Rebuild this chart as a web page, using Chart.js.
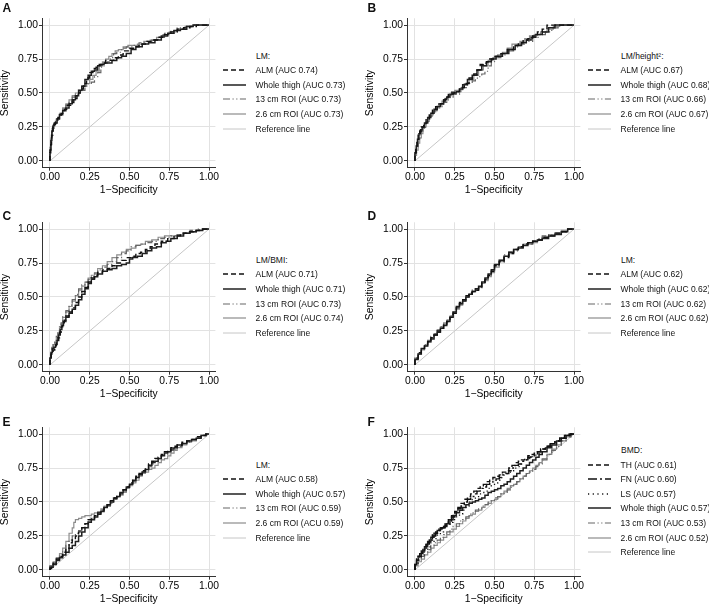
<!DOCTYPE html>
<html>
<head>
<meta charset="utf-8">
<script src="https://cdn.jsdelivr.net/npm/chart.js@4"></script>
<style>
  body { margin: 0; width: 709px; height: 604px; background: #fff; position: relative; overflow: hidden; font-family: 'Liberation Sans', Arial, sans-serif; }
  canvas { position: absolute; }
  .tag { position: absolute; font-size: 12px; font-weight: bold; line-height: 12px; color: #111; }
  .leg { position: absolute; font-size: 8.5px; color: #111; white-space: nowrap; }
  .leg .row { position: absolute; left: 0; height: 14px; display: flex; align-items: center; }
  .leg svg { width: 23px; height: 6px; margin-right: 10px; }
</style>
</head>
<body>
<script>
// axis ticks shared by all panels
const xTicks = [0, 0.25, 0.5, 0.75, 1];
const yTicks = [0, 0.25, 0.5, 0.75, 1];
const refLine = [[0, 0], [1, 1]];

// panel A — LM
const aALM = [[0,0],[0.005,0.06],[0.01,0.12],[0.018,0.19],[0.025,0.25],[0.035,0.27],[0.05,0.29],[0.07,0.32],[0.09,0.35],[0.11,0.38],[0.13,0.41],[0.15,0.43],[0.17,0.46],[0.19,0.5],[0.21,0.53],[0.23,0.57],[0.25,0.61],[0.27,0.65],[0.29,0.68],[0.31,0.69],[0.33,0.71],[0.35,0.72],[0.37,0.74],[0.4,0.74],[0.43,0.76],[0.46,0.78],[0.5,0.81],[0.53,0.83],[0.56,0.84],[0.6,0.86],[0.64,0.88],[0.68,0.89],[0.72,0.91],[0.76,0.93],[0.8,0.95],[0.84,0.97],[0.88,0.98],[0.92,0.99],[0.95,1],[1,1]];
const aWT = [[0,0],[0.006,0.08],[0.012,0.15],[0.02,0.22],[0.03,0.26],[0.045,0.28],[0.06,0.31],[0.08,0.34],[0.1,0.37],[0.12,0.39],[0.14,0.42],[0.16,0.45],[0.18,0.48],[0.2,0.52],[0.22,0.55],[0.24,0.6],[0.26,0.63],[0.28,0.66],[0.3,0.67],[0.32,0.7],[0.34,0.71],[0.36,0.72],[0.39,0.72],[0.42,0.74],[0.45,0.76],[0.48,0.77],[0.51,0.79],[0.54,0.82],[0.58,0.84],[0.62,0.86],[0.66,0.87],[0.7,0.89],[0.74,0.92],[0.78,0.94],[0.82,0.96],[0.86,0.97],[0.9,0.99],[0.94,1],[1,1]];
const a13 = [[0,0],[0.008,0.1],[0.015,0.18],[0.025,0.24],[0.04,0.27],[0.06,0.3],[0.08,0.34],[0.1,0.38],[0.12,0.41],[0.14,0.44],[0.16,0.47],[0.18,0.49],[0.2,0.5],[0.22,0.52],[0.24,0.55],[0.26,0.57],[0.28,0.58],[0.3,0.62],[0.32,0.65],[0.34,0.69],[0.36,0.72],[0.38,0.73],[0.4,0.76],[0.42,0.79],[0.45,0.8],[0.48,0.83],[0.5,0.84],[0.53,0.84],[0.56,0.85],[0.6,0.87],[0.64,0.88],[0.68,0.89],[0.72,0.91],[0.76,0.94],[0.8,0.96],[0.85,0.98],[0.9,0.99],[0.95,1],[1,1]];
const a26 = [[0,0],[0.007,0.09],[0.014,0.17],[0.024,0.24],[0.04,0.28],[0.06,0.31],[0.08,0.35],[0.1,0.39],[0.12,0.42],[0.14,0.45],[0.16,0.48],[0.18,0.5],[0.2,0.52],[0.23,0.55],[0.25,0.57],[0.27,0.6],[0.29,0.63],[0.31,0.66],[0.33,0.7],[0.35,0.73],[0.37,0.75],[0.39,0.77],[0.41,0.79],[0.43,0.81],[0.46,0.82],[0.49,0.84],[0.52,0.85],[0.55,0.85],[0.59,0.86],[0.63,0.88],[0.67,0.89],[0.71,0.91],[0.75,0.93],[0.8,0.95],[0.85,0.97],[0.9,0.99],[0.95,1],[1,1]];

// panel B — LM/height²
const bALM = [[0,0],[0.005,0.05],[0.012,0.1],[0.02,0.15],[0.03,0.19],[0.04,0.22],[0.055,0.25],[0.07,0.27],[0.09,0.31],[0.11,0.35],[0.13,0.38],[0.15,0.4],[0.17,0.42],[0.19,0.44],[0.21,0.47],[0.23,0.49],[0.25,0.5],[0.28,0.51],[0.31,0.54],[0.34,0.57],[0.37,0.61],[0.39,0.64],[0.41,0.67],[0.43,0.71],[0.45,0.72],[0.47,0.73],[0.5,0.75],[0.54,0.77],[0.58,0.79],[0.62,0.82],[0.65,0.85],[0.68,0.87],[0.71,0.89],[0.74,0.9],[0.77,0.92],[0.8,0.95],[0.83,0.97],[0.86,1],[0.9,1],[1,1]];
const bWT = [[0,0],[0.008,0.06],[0.016,0.11],[0.025,0.16],[0.035,0.2],[0.045,0.23],[0.06,0.25],[0.08,0.28],[0.1,0.32],[0.12,0.35],[0.14,0.38],[0.16,0.4],[0.18,0.42],[0.2,0.45],[0.22,0.47],[0.24,0.49],[0.26,0.5],[0.28,0.51],[0.3,0.53],[0.33,0.56],[0.36,0.6],[0.39,0.63],[0.42,0.67],[0.45,0.7],[0.48,0.73],[0.51,0.75],[0.55,0.77],[0.59,0.79],[0.63,0.82],[0.67,0.85],[0.7,0.87],[0.73,0.89],[0.76,0.91],[0.8,0.93],[0.84,0.95],[0.88,0.98],[0.91,1],[1,1]];
const b13 = [[0,0],[0.01,0.05],[0.02,0.1],[0.03,0.15],[0.04,0.19],[0.05,0.22],[0.065,0.24],[0.08,0.27],[0.1,0.31],[0.12,0.34],[0.14,0.37],[0.16,0.39],[0.18,0.4],[0.2,0.43],[0.22,0.45],[0.24,0.47],[0.26,0.49],[0.28,0.49],[0.3,0.51],[0.33,0.54],[0.36,0.57],[0.38,0.59],[0.4,0.61],[0.42,0.62],[0.44,0.64],[0.46,0.66],[0.48,0.7],[0.5,0.73],[0.54,0.76],[0.58,0.78],[0.62,0.81],[0.66,0.84],[0.7,0.86],[0.74,0.88],[0.78,0.91],[0.82,0.93],[0.86,0.95],[0.9,0.98],[0.93,1],[1,1]];
const b26 = [[0,0],[0.01,0.04],[0.02,0.08],[0.03,0.13],[0.04,0.17],[0.05,0.2],[0.06,0.24],[0.07,0.25],[0.09,0.29],[0.11,0.33],[0.13,0.36],[0.15,0.39],[0.17,0.41],[0.19,0.44],[0.21,0.46],[0.23,0.48],[0.25,0.51],[0.27,0.52],[0.29,0.52],[0.31,0.54],[0.34,0.57],[0.37,0.6],[0.4,0.63],[0.43,0.67],[0.46,0.7],[0.49,0.74],[0.52,0.76],[0.55,0.78],[0.58,0.8],[0.61,0.83],[0.63,0.86],[0.66,0.86],[0.69,0.88],[0.72,0.9],[0.75,0.92],[0.79,0.93],[0.83,0.95],[0.87,0.97],[0.91,0.99],[0.94,1],[1,1]];

// panel C — LM/BMI
const cALM = [[0,0],[0.006,0.04],[0.012,0.08],[0.02,0.1],[0.03,0.11],[0.04,0.14],[0.05,0.17],[0.06,0.2],[0.07,0.24],[0.08,0.28],[0.09,0.31],[0.1,0.33],[0.12,0.36],[0.14,0.39],[0.16,0.42],[0.18,0.46],[0.2,0.5],[0.22,0.54],[0.24,0.57],[0.26,0.61],[0.28,0.64],[0.3,0.66],[0.33,0.68],[0.36,0.7],[0.39,0.71],[0.42,0.73],[0.45,0.75],[0.48,0.77],[0.51,0.79],[0.54,0.8],[0.57,0.82],[0.6,0.83],[0.63,0.85],[0.66,0.87],[0.7,0.89],[0.74,0.91],[0.78,0.93],[0.82,0.95],[0.86,0.97],[0.9,0.98],[0.94,0.99],[1,1]];
const cWT = [[0,0],[0.008,0.05],[0.015,0.09],[0.025,0.12],[0.035,0.13],[0.045,0.15],[0.055,0.18],[0.065,0.22],[0.075,0.26],[0.085,0.29],[0.1,0.32],[0.12,0.35],[0.14,0.38],[0.16,0.41],[0.18,0.44],[0.2,0.48],[0.22,0.52],[0.24,0.56],[0.26,0.6],[0.28,0.63],[0.3,0.65],[0.33,0.67],[0.36,0.69],[0.39,0.7],[0.42,0.71],[0.45,0.73],[0.48,0.74],[0.5,0.75],[0.52,0.78],[0.55,0.79],[0.58,0.8],[0.61,0.82],[0.64,0.84],[0.67,0.86],[0.7,0.87],[0.73,0.9],[0.76,0.91],[0.8,0.93],[0.84,0.95],[0.88,0.97],[0.92,0.98],[0.96,0.99],[1,1]];
const c13 = [[0,0],[0.006,0.06],[0.012,0.1],[0.02,0.13],[0.03,0.15],[0.04,0.18],[0.05,0.21],[0.06,0.25],[0.07,0.28],[0.08,0.31],[0.1,0.36],[0.12,0.4],[0.14,0.44],[0.16,0.48],[0.18,0.52],[0.2,0.56],[0.22,0.59],[0.24,0.61],[0.26,0.63],[0.28,0.65],[0.3,0.67],[0.33,0.7],[0.36,0.72],[0.39,0.74],[0.42,0.76],[0.45,0.79],[0.48,0.82],[0.51,0.84],[0.54,0.87],[0.57,0.88],[0.6,0.89],[0.64,0.9],[0.68,0.91],[0.72,0.93],[0.76,0.94],[0.8,0.95],[0.84,0.96],[0.88,0.97],[0.92,0.99],[0.96,1],[1,1]];
const c26 = [[0,0],[0.006,0.05],[0.012,0.09],[0.02,0.12],[0.03,0.15],[0.04,0.17],[0.05,0.2],[0.06,0.23],[0.07,0.27],[0.08,0.3],[0.1,0.35],[0.12,0.39],[0.14,0.43],[0.16,0.47],[0.18,0.51],[0.2,0.55],[0.22,0.58],[0.24,0.61],[0.26,0.64],[0.28,0.66],[0.3,0.68],[0.33,0.71],[0.36,0.73],[0.39,0.76],[0.42,0.79],[0.45,0.81],[0.48,0.83],[0.51,0.85],[0.54,0.86],[0.57,0.88],[0.6,0.89],[0.64,0.91],[0.68,0.92],[0.72,0.94],[0.76,0.95],[0.8,0.95],[0.84,0.96],[0.88,0.97],[0.92,0.98],[0.96,0.99],[1,1]];

// panel D — LM
const dALM = [[0,0],[0.02,0.05],[0.04,0.09],[0.06,0.12],[0.08,0.15],[0.1,0.17],[0.12,0.2],[0.14,0.22],[0.16,0.25],[0.18,0.27],[0.2,0.3],[0.22,0.32],[0.24,0.35],[0.26,0.38],[0.28,0.42],[0.3,0.46],[0.32,0.48],[0.34,0.51],[0.36,0.53],[0.38,0.54],[0.4,0.55],[0.42,0.57],[0.44,0.6],[0.46,0.63],[0.48,0.66],[0.5,0.69],[0.53,0.73],[0.56,0.76],[0.59,0.79],[0.62,0.82],[0.65,0.85],[0.68,0.87],[0.71,0.89],[0.74,0.9],[0.77,0.91],[0.8,0.92],[0.84,0.94],[0.88,0.95],[0.92,0.97],[0.96,0.98],[1,1]];
const dWT = [[0,0],[0.02,0.04],[0.04,0.08],[0.06,0.12],[0.08,0.14],[0.1,0.17],[0.12,0.19],[0.14,0.22],[0.16,0.24],[0.18,0.27],[0.2,0.29],[0.22,0.32],[0.24,0.35],[0.26,0.39],[0.28,0.43],[0.3,0.45],[0.32,0.47],[0.34,0.5],[0.36,0.52],[0.38,0.54],[0.4,0.56],[0.42,0.58],[0.44,0.61],[0.46,0.64],[0.48,0.67],[0.5,0.7],[0.53,0.74],[0.56,0.77],[0.59,0.8],[0.62,0.83],[0.65,0.85],[0.68,0.86],[0.71,0.88],[0.74,0.9],[0.77,0.91],[0.8,0.92],[0.84,0.93],[0.88,0.95],[0.92,0.96],[0.96,0.98],[1,1]];
const d13 = [[0,0],[0.02,0.05],[0.04,0.09],[0.06,0.12],[0.08,0.15],[0.1,0.18],[0.12,0.21],[0.14,0.23],[0.16,0.25],[0.18,0.28],[0.2,0.3],[0.22,0.33],[0.24,0.36],[0.26,0.39],[0.28,0.42],[0.3,0.45],[0.32,0.48],[0.34,0.5],[0.36,0.53],[0.38,0.55],[0.4,0.56],[0.42,0.58],[0.44,0.6],[0.46,0.63],[0.48,0.66],[0.5,0.69],[0.53,0.73],[0.56,0.77],[0.59,0.81],[0.62,0.83],[0.65,0.84],[0.68,0.87],[0.71,0.88],[0.74,0.89],[0.77,0.91],[0.8,0.93],[0.84,0.95],[0.88,0.96],[0.92,0.97],[0.96,0.98],[1,1]];
const d26 = [[0,0],[0.02,0.05],[0.04,0.08],[0.06,0.11],[0.08,0.14],[0.1,0.17],[0.12,0.2],[0.14,0.23],[0.16,0.26],[0.18,0.28],[0.2,0.31],[0.22,0.33],[0.24,0.36],[0.26,0.38],[0.28,0.41],[0.3,0.44],[0.32,0.47],[0.34,0.5],[0.36,0.52],[0.38,0.54],[0.4,0.55],[0.42,0.57],[0.44,0.6],[0.46,0.62],[0.48,0.65],[0.5,0.68],[0.53,0.72],[0.56,0.76],[0.59,0.8],[0.62,0.82],[0.65,0.85],[0.68,0.87],[0.71,0.89],[0.74,0.89],[0.77,0.9],[0.8,0.92],[0.84,0.94],[0.88,0.96],[0.92,0.97],[0.96,0.99],[1,1]];

// panel E — LM
const eALM = [[0,0],[0.01,0.01],[0.02,0.03],[0.04,0.05],[0.06,0.08],[0.08,0.1],[0.1,0.13],[0.12,0.16],[0.14,0.2],[0.16,0.22],[0.18,0.25],[0.2,0.28],[0.22,0.31],[0.24,0.34],[0.26,0.37],[0.28,0.38],[0.3,0.4],[0.32,0.42],[0.34,0.44],[0.36,0.46],[0.38,0.48],[0.4,0.51],[0.42,0.53],[0.44,0.55],[0.46,0.56],[0.48,0.59],[0.5,0.61],[0.52,0.64],[0.54,0.67],[0.56,0.69],[0.58,0.71],[0.6,0.73],[0.62,0.75],[0.64,0.78],[0.66,0.8],[0.68,0.82],[0.7,0.83],[0.72,0.85],[0.74,0.87],[0.76,0.88],[0.78,0.9],[0.8,0.91],[0.83,0.92],[0.86,0.94],[0.89,0.95],[0.92,0.96],[0.95,0.98],[0.98,0.99],[1,1]];
const eWT = [[0,0],[0.02,0.02],[0.04,0.04],[0.06,0.07],[0.08,0.09],[0.1,0.11],[0.12,0.13],[0.14,0.16],[0.16,0.18],[0.18,0.21],[0.2,0.25],[0.22,0.28],[0.24,0.31],[0.26,0.35],[0.28,0.37],[0.3,0.39],[0.32,0.41],[0.34,0.43],[0.36,0.46],[0.38,0.48],[0.4,0.5],[0.42,0.53],[0.44,0.54],[0.46,0.57],[0.48,0.59],[0.5,0.61],[0.52,0.63],[0.54,0.66],[0.56,0.68],[0.58,0.7],[0.6,0.72],[0.62,0.74],[0.64,0.77],[0.66,0.79],[0.68,0.8],[0.7,0.82],[0.72,0.84],[0.74,0.86],[0.76,0.87],[0.78,0.89],[0.8,0.9],[0.83,0.92],[0.86,0.93],[0.89,0.95],[0.92,0.96],[0.95,0.97],[0.98,0.99],[1,1]];
const e13 = [[0,0],[0.02,0.03],[0.04,0.05],[0.06,0.08],[0.08,0.11],[0.1,0.14],[0.12,0.18],[0.14,0.22],[0.16,0.25],[0.18,0.27],[0.2,0.29],[0.22,0.31],[0.24,0.34],[0.26,0.36],[0.28,0.38],[0.3,0.4],[0.32,0.42],[0.34,0.44],[0.36,0.46],[0.38,0.47],[0.4,0.49],[0.42,0.52],[0.44,0.54],[0.46,0.56],[0.48,0.58],[0.5,0.6],[0.52,0.63],[0.54,0.65],[0.56,0.68],[0.58,0.7],[0.6,0.72],[0.62,0.74],[0.64,0.76],[0.66,0.78],[0.68,0.8],[0.7,0.82],[0.72,0.84],[0.74,0.85],[0.76,0.87],[0.78,0.88],[0.8,0.89],[0.83,0.91],[0.86,0.93],[0.89,0.94],[0.92,0.96],[0.95,0.97],[0.98,0.99],[1,1]];
const e26 = [[0,0],[0.02,0.03],[0.04,0.06],[0.06,0.09],[0.08,0.12],[0.1,0.16],[0.12,0.21],[0.14,0.27],[0.15,0.31],[0.16,0.35],[0.18,0.37],[0.2,0.38],[0.22,0.39],[0.24,0.4],[0.26,0.4],[0.28,0.41],[0.3,0.42],[0.32,0.43],[0.34,0.45],[0.36,0.47],[0.38,0.48],[0.4,0.5],[0.42,0.52],[0.44,0.54],[0.46,0.55],[0.48,0.57],[0.5,0.6],[0.52,0.62],[0.54,0.64],[0.56,0.66],[0.58,0.69],[0.6,0.71],[0.62,0.72],[0.64,0.74],[0.66,0.75],[0.68,0.77],[0.7,0.79],[0.72,0.81],[0.74,0.82],[0.76,0.84],[0.78,0.86],[0.8,0.88],[0.83,0.9],[0.86,0.92],[0.89,0.94],[0.92,0.95],[0.95,0.97],[0.98,0.99],[1,1]];

// panel F — BMD
const fTH = [[0,0],[0.01,0.05],[0.02,0.08],[0.03,0.1],[0.05,0.13],[0.07,0.16],[0.09,0.2],[0.11,0.23],[0.13,0.26],[0.15,0.28],[0.17,0.3],[0.19,0.32],[0.21,0.34],[0.23,0.37],[0.25,0.4],[0.27,0.43],[0.29,0.46],[0.31,0.49],[0.33,0.52],[0.35,0.54],[0.37,0.56],[0.39,0.58],[0.41,0.6],[0.43,0.62],[0.45,0.63],[0.47,0.65],[0.49,0.66],[0.51,0.68],[0.53,0.69],[0.55,0.7],[0.57,0.72],[0.59,0.73],[0.61,0.75],[0.63,0.77],[0.65,0.79],[0.67,0.8],[0.69,0.81],[0.71,0.82],[0.73,0.84],[0.75,0.85],[0.77,0.86],[0.79,0.87],[0.82,0.89],[0.85,0.91],[0.88,0.93],[0.91,0.95],[0.94,0.97],[0.97,0.99],[1,1]];
const fFN = [[0,0],[0.01,0.04],[0.02,0.07],[0.03,0.09],[0.05,0.12],[0.07,0.15],[0.09,0.19],[0.11,0.22],[0.13,0.25],[0.15,0.27],[0.17,0.29],[0.19,0.31],[0.21,0.33],[0.23,0.36],[0.25,0.39],[0.27,0.42],[0.29,0.45],[0.31,0.47],[0.33,0.5],[0.35,0.52],[0.37,0.54],[0.39,0.56],[0.41,0.58],[0.43,0.6],[0.45,0.61],[0.47,0.63],[0.49,0.64],[0.51,0.66],[0.53,0.67],[0.55,0.68],[0.57,0.7],[0.59,0.71],[0.61,0.73],[0.63,0.75],[0.65,0.77],[0.67,0.78],[0.69,0.8],[0.71,0.81],[0.73,0.83],[0.75,0.84],[0.77,0.85],[0.79,0.87],[0.82,0.89],[0.85,0.91],[0.88,0.93],[0.91,0.95],[0.94,0.97],[0.97,0.99],[1,1]];
const fLS = [[0,0],[0.02,0.05],[0.04,0.08],[0.06,0.11],[0.08,0.14],[0.1,0.17],[0.12,0.2],[0.14,0.23],[0.16,0.26],[0.18,0.28],[0.2,0.31],[0.22,0.33],[0.24,0.35],[0.26,0.37],[0.28,0.39],[0.3,0.41],[0.32,0.44],[0.34,0.47],[0.36,0.5],[0.38,0.52],[0.4,0.54],[0.42,0.56],[0.44,0.57],[0.46,0.58],[0.48,0.6],[0.5,0.62],[0.52,0.64],[0.54,0.66],[0.56,0.68],[0.58,0.7],[0.6,0.72],[0.62,0.73],[0.64,0.75],[0.66,0.76],[0.68,0.78],[0.7,0.8],[0.72,0.81],[0.74,0.82],[0.76,0.84],[0.78,0.85],[0.8,0.87],[0.83,0.89],[0.86,0.91],[0.89,0.93],[0.92,0.95],[0.95,0.97],[0.98,0.99],[1,1]];
const fWT = [[0,0],[0.01,0.04],[0.02,0.07],[0.04,0.1],[0.06,0.14],[0.08,0.17],[0.1,0.21],[0.12,0.24],[0.14,0.27],[0.16,0.29],[0.18,0.31],[0.2,0.32],[0.22,0.34],[0.24,0.37],[0.26,0.4],[0.28,0.42],[0.3,0.44],[0.32,0.46],[0.34,0.48],[0.36,0.49],[0.38,0.5],[0.4,0.51],[0.42,0.52],[0.44,0.53],[0.46,0.55],[0.48,0.57],[0.5,0.58],[0.52,0.59],[0.54,0.6],[0.56,0.62],[0.58,0.63],[0.6,0.65],[0.62,0.67],[0.64,0.69],[0.66,0.71],[0.68,0.73],[0.7,0.75],[0.72,0.77],[0.74,0.79],[0.76,0.81],[0.78,0.83],[0.8,0.85],[0.83,0.87],[0.86,0.9],[0.89,0.92],[0.92,0.95],[0.95,0.97],[0.98,0.99],[1,1]];
const f13 = [[0,0],[0.02,0.04],[0.04,0.07],[0.06,0.1],[0.08,0.13],[0.1,0.15],[0.12,0.18],[0.14,0.2],[0.16,0.22],[0.18,0.24],[0.2,0.26],[0.22,0.28],[0.24,0.3],[0.26,0.32],[0.28,0.34],[0.3,0.36],[0.32,0.37],[0.34,0.39],[0.36,0.41],[0.38,0.42],[0.4,0.44],[0.42,0.45],[0.44,0.47],[0.46,0.48],[0.48,0.5],[0.5,0.51],[0.52,0.53],[0.54,0.54],[0.56,0.56],[0.58,0.57],[0.6,0.59],[0.62,0.61],[0.64,0.63],[0.66,0.65],[0.68,0.67],[0.7,0.69],[0.72,0.71],[0.74,0.72],[0.76,0.74],[0.78,0.76],[0.8,0.78],[0.83,0.81],[0.86,0.85],[0.89,0.88],[0.92,0.91],[0.95,0.95],[0.98,0.98],[1,1]];
const f26 = [[0,0],[0.02,0.03],[0.04,0.06],[0.06,0.08],[0.08,0.11],[0.1,0.13],[0.12,0.16],[0.14,0.18],[0.16,0.2],[0.18,0.22],[0.2,0.24],[0.22,0.26],[0.24,0.28],[0.26,0.3],[0.28,0.32],[0.3,0.34],[0.32,0.36],[0.34,0.38],[0.36,0.4],[0.38,0.41],[0.4,0.43],[0.42,0.44],[0.44,0.46],[0.46,0.48],[0.48,0.49],[0.5,0.51],[0.52,0.52],[0.54,0.54],[0.56,0.56],[0.58,0.58],[0.6,0.6],[0.62,0.62],[0.64,0.63],[0.66,0.65],[0.68,0.67],[0.7,0.69],[0.72,0.71],[0.74,0.73],[0.76,0.75],[0.78,0.77],[0.8,0.79],[0.83,0.82],[0.86,0.85],[0.89,0.89],[0.92,0.92],[0.95,0.95],[0.98,0.98],[1,1]];

// line looks (Stata-ish monochrome)
const LOOK = {
  alm: { color: '#111111', width: 1.4, dash: [5, 3] },
  fn:  { color: '#111111', width: 1.4, dash: [9, 3, 2, 3] },
  ls:  { color: '#111111', width: 1.3, dash: [1.2, 3.5] },
  wt:  { color: '#202020', width: 1.5, dash: [] },
  r13: { color: '#666666', width: 1.2, dash: [7, 2.5, 1.2, 2.5, 1.2, 2.5] },
  r26: { color: '#8c8c8c', width: 1.2, dash: [] },
  ref: { color: '#c6c6c6', width: 1, dash: [] },
};

const colX = [0, 365];
const rowY = [0, 204.3, 409];

const panels = [
  { tag: 'A', c: 0, r: 0, title: 'LM:', series: [
    ['ALM (AUC 0.74)', aALM, 'alm'], ['Whole thigh (AUC 0.73)', aWT, 'wt'],
    ['13 cm ROI (AUC 0.73)', a13, 'r13'], ['2.6 cm ROI (AUC 0.73)', a26, 'r26']] },
  { tag: 'B', c: 1, r: 0, title: 'LM/height²:', series: [
    ['ALM (AUC 0.67)', bALM, 'alm'], ['Whole thigh (AUC 0.68)', bWT, 'wt'],
    ['13 cm ROI (AUC 0.66)', b13, 'r13'], ['2.6 cm ROI (AUC 0.67)', b26, 'r26']] },
  { tag: 'C', c: 0, r: 1, title: 'LM/BMI:', series: [
    ['ALM (AUC 0.71)', cALM, 'alm'], ['Whole thigh (AUC 0.71)', cWT, 'wt'],
    ['13 cm ROI (AUC 0.73)', c13, 'r13'], ['2.6 cm ROI (AUC 0.74)', c26, 'r26']] },
  { tag: 'D', c: 1, r: 1, title: 'LM:', series: [
    ['ALM (AUC 0.62)', dALM, 'alm'], ['Whole thigh (AUC 0.62)', dWT, 'wt'],
    ['13 cm ROI (AUC 0.62)', d13, 'r13'], ['2.6 cm ROI (AUC 0.62)', d26, 'r26']] },
  { tag: 'E', c: 0, r: 2, title: 'LM:', series: [
    ['ALM (AUC 0.58)', eALM, 'alm'], ['Whole thigh (AUC 0.57)', eWT, 'wt'],
    ['13 cm ROI (AUC 0.59)', e13, 'r13'], ['2.6 cm ROI (ACU 0.59)', e26, 'r26']] },
  { tag: 'F', c: 1, r: 2, title: 'BMD:', series: [
    ['TH (AUC 0.61)', fTH, 'alm'], ['FN (AUC 0.60)', fFN, 'fn'], ['LS (AUC 0.57)', fLS, 'ls'],
    ['Whole thigh (AUC 0.57)', fWT, 'wt'], ['13 cm ROI (AUC 0.53)', f13, 'r13'],
    ['2.6 cm ROI (AUC 0.52)', f26, 'r26']] },
];

Chart.defaults.font.family = "'Liberation Sans', Arial, sans-serif";
Chart.defaults.color = '#111';

const CW = 225, CH = 200, PLOT_TOP = 18.3, PLOT_BOTTOM = 167.7, PLOT_LEFT = 42, PLOT_RIGHT = 215.4;

function axis(ticks, title, isX) {
  return {
    type: 'linear',
    min: -0.05,
    max: isX ? 1.04 : 1.05,
    afterBuildTicks: (s) => { s.ticks = ticks.map((v) => ({ value: v })); },
    afterFit: (s) => { if (isX) s.height = CH - PLOT_BOTTOM; else s.width = PLOT_LEFT; },
    grid: { color: '#e2e2e2', tickColor: '#333', tickLength: 3, lineWidth: 1 },
    border: { color: '#333', width: 1 },
    ticks: { callback: (v) => v.toFixed(2), font: { size: 10.3 }, color: '#000', padding: isX ? 0 : 1, autoSkip: false, maxRotation: 0 },
    title: { display: true, text: title, font: { size: 10.3, lineHeight: 1 }, color: '#000', padding: isX ? { top: 0, bottom: 5 } : { top: 0, bottom: 0 } },
  };
}

function legendSvg(look) {
  return `<svg viewBox="0 0 23 6"><line x1="0" y1="3" x2="23" y2="3" stroke="${look.color}" stroke-width="${look.width}" stroke-dasharray="${look.dash.join(' ')}"/></svg>`;
}

panels.forEach((p) => {
  const left = colX[p.c], top = rowY[p.r];
  const cv = document.createElement('canvas');
  cv.width = CW; cv.height = CH;
  cv.style.left = left + 'px'; cv.style.top = top + 'px';
  cv.style.width = CW + 'px'; cv.style.height = CH + 'px';
  document.body.appendChild(cv);

  const sets = p.series.map(([label, pts, key]) => ({ label, pts, look: LOOK[key], stepped: 'after' }));
  sets.push({ label: 'Reference line', pts: refLine, look: LOOK.ref, stepped: false });

  new Chart(cv, {
    type: 'scatter',
    data: {
      datasets: sets.map((s) => ({
        label: s.label,
        data: s.pts.map(([x, y]) => ({ x, y })),
        showLine: true,
        stepped: s.stepped,
        borderColor: s.look.color,
        borderWidth: s.look.width,
        borderDash: s.look.dash,
        borderJoinStyle: 'miter',
        pointRadius: 0,
        fill: false,
        tension: 0,
      })),
    },
    options: {
      responsive: false,
      animation: false,
      layout: { padding: { top: PLOT_TOP, right: CW - PLOT_RIGHT, left: 0, bottom: 0 } },
      plugins: { legend: { display: false }, tooltip: { enabled: false } },
      scales: { x: axis(xTicks, '1−Specificity', true), y: axis(yTicks, 'Sensitivity', false) },
    },
  });

  // panel letter
  const tag = document.createElement('div');
  tag.className = 'tag';
  tag.textContent = p.tag;
  tag.style.left = (left + 2.5) + 'px';
  tag.style.top = (top + [1.8, 5.5, 6.5][p.r]) + 'px';
  document.body.appendChild(tag);

  // legend, vertically centred on the plot
  const leg = document.createElement('div');
  leg.className = 'leg';
  leg.style.left = (left + 222.5) + 'px';
  leg.style.top = '0px';
  const mid = top + (PLOT_TOP + PLOT_BOTTOM) / 2 - 1;
  const step = 14.6;
  const n = sets.length + 1;
  const first = mid - (n - 1) / 2 * step;
  let html = `<div class="row" style="top:${first - 7}px;left:33.5px">${p.title}</div>`;
  sets.forEach((s, i) => {
    html += `<div class="row" style="top:${first + (i + 1) * step - 7}px">${legendSvg(s.look)}<span>${s.label}</span></div>`;
  });
  leg.innerHTML = html;
  document.body.appendChild(leg);
});
</script>
</body>
</html>
